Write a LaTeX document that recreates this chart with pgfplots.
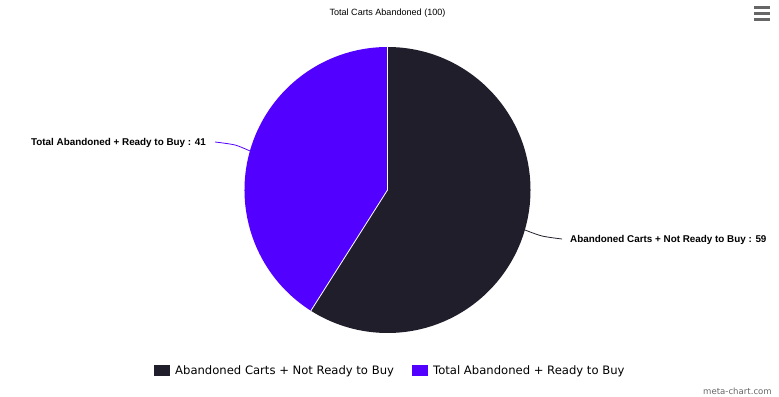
\documentclass[border=0pt]{standalone}
\usepackage{pgfplots}
\usepackage{pgfplotstable}
\pgfplotsset{compat=1.18}
\usepackage{fontspec}
\setmainfont{Liberation Sans}
\newfontfamily\legfont{DejaVu Sans}
\definecolor{cdark}{HTML}{201E2B}
\definecolor{cpurple}{HTML}{5200FF}
\definecolor{cgray}{HTML}{666666}
\pgfplotstableread{
label value
NotReady 59
Ready 41
}\piedata
\begin{document}
\begin{tikzpicture}
\pgfplotstablegetelem{0}{value}\of\piedata \let\va\pgfplotsretval
\pgfplotstablegetelem{1}{value}\of\piedata \let\vb\pgfplotsretval
\pgfmathsetmacro{\tot}{\va+\vb}
\pgfmathsetmacro{\angA}{90-\va/\tot*360}
\pgfmathsetmacro{\angB}{\angA-\vb/\tot*360}
\begin{axis}[
  width=779bp, height=397bp, scale only axis,
  xmin=0, xmax=779, ymin=0, ymax=397,
  hide axis, clip=false,
]
\path (axis cs:0,0) rectangle (axis cs:779,397);
% pie (center 387.5,207 ; radius 143)
\fill[cdark] (axis cs:387.5,207) -- ++(90:143bp) arc[start angle=90, end angle=\angA, radius=143bp] -- cycle;
\fill[cpurple] (axis cs:387.5,207) -- ++(\angA:143bp) arc[start angle=\angA, end angle=\angB, radius=143bp] -- cycle;
\draw[white, line width=0.8bp] (axis cs:387.5,207) -- ++(\angA:143bp);
\draw[white, line width=0.8bp] (axis cs:387.5,207) -- ++(90:143bp);
% leader lines
\addplot[cpurple, line width=0.8bp, smooth] coordinates {(215,255) (235,252) (250,246)};
\addplot[cdark, line width=0.8bp, smooth] coordinates {(525,167) (542,161) (562,158)};
% labels
\node[anchor=east, font=\bfseries\fontsize{9.9}{11}\selectfont, inner sep=0pt] at (axis cs:206,254) {Total Abandoned + Ready to Buy : 41};
\node[anchor=west, font=\bfseries\fontsize{9.9}{11}\selectfont, inner sep=0pt] at (axis cs:570,157) {Abandoned Carts + Not Ready to Buy : 59};
% title
\node[font=\fontsize{9.1}{10}\selectfont, inner sep=0pt] at (axis cs:387.5,384) {Total Carts Abandoned (100)};
% legend
\fill[cdark] (axis cs:154,21) rectangle (axis cs:170,31.5);
\node[anchor=west, font=\legfont\fontsize{11.65}{13}\selectfont, inner sep=0pt] at (axis cs:175,25.5) {Abandoned Carts + Not Ready to Buy};
\fill[cpurple] (axis cs:412,21) rectangle (axis cs:428,31.5);
\node[anchor=west, font=\legfont\fontsize{11.65}{13}\selectfont, inner sep=0pt] at (axis cs:433,25.5) {Total Abandoned + Ready to Buy};
% credit
\node[anchor=east, font=\legfont\fontsize{8.6}{10}\selectfont, text=cgray, inner sep=0pt] at (axis cs:772,6) {meta-chart.com};
% menu icon
\fill[cgray] (axis cs:754,375.5) rectangle (axis cs:770,378.5);
\fill[cgray] (axis cs:754,381.5) rectangle (axis cs:770,384.5);
\fill[cgray] (axis cs:754,387.5) rectangle (axis cs:770,390.5);
\end{axis}
\end{tikzpicture}
\end{document}
